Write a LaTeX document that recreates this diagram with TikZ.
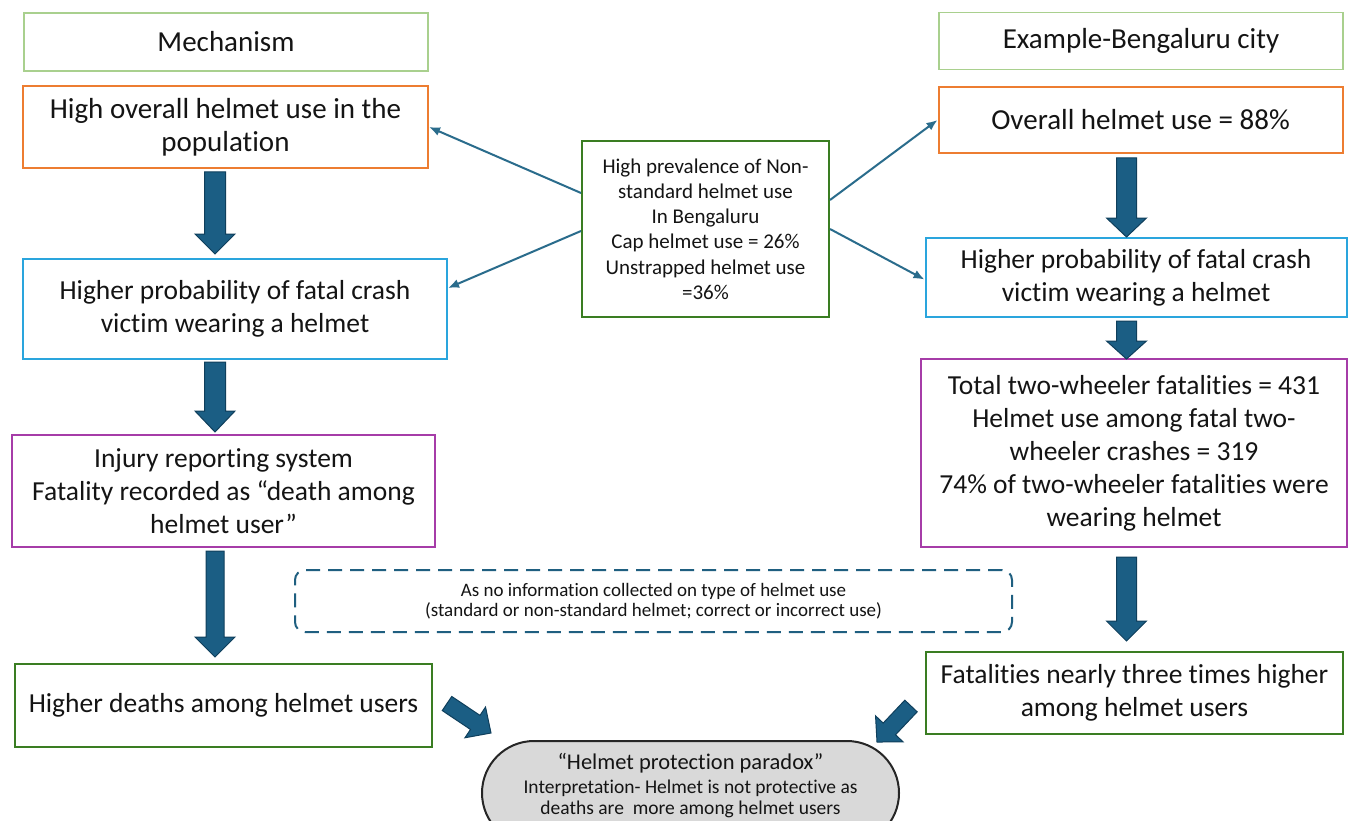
\documentclass[tikz,border=0pt]{standalone}
\usepackage{fontspec}
\setmainfont{Carlito}[Ligatures=NoCommon]
\usetikzlibrary{calc,arrows.meta,shapes.misc}
\definecolor{lgreen}{HTML}{A9D08E}
\definecolor{orng}{HTML}{ED7D31}
\definecolor{lblue}{HTML}{2AA5DD}
\definecolor{purp}{HTML}{A63CA8}
\definecolor{dgreen}{HTML}{3A7D22}
\definecolor{arrfill}{HTML}{1B5E84}
\definecolor{arrline}{HTML}{0F3F5C}
\definecolor{thinc}{HTML}{2A6C8C}
\definecolor{dashc}{HTML}{1F5F80}
\definecolor{pgray}{HTML}{D9D9D9}
\definecolor{txt}{HTML}{141414}
\tikzset{
  box/.style={draw, line width=2pt, align=center, inner sep=0pt, text=txt,
    font=\fontsize{27.5}{33}\selectfont},
  bigtext/.style={font=\fontsize{29}{33}\selectfont},
  barrow/.style={fill=arrfill, draw=arrline, line width=1pt, line join=miter},
  thinarrow/.style={draw=thinc, line width=2pt, -{Latex[length=11pt,width=9pt]}},
}
\newcommand\blockarrow[5]{%
  \coordinate (ba-n) at ($(#2)!#5!(#1)$);
  \filldraw[barrow] ($(#1)!#3!90:(#2)$) -- ($(ba-n)!#3!90:(#2)$) -- ($(ba-n)!#4!90:(#2)$)
    -- (#2) -- ($(ba-n)!#4!-90:(#2)$) -- ($(ba-n)!#3!-90:(#2)$) -- ($(#1)!#3!-90:(#2)$) -- cycle;
}
\begin{document}
\begin{tikzpicture}[x=1pt,y=-1pt]
\useasboundingbox (0,0) rectangle (1348,821);
\clip (0,0) rectangle (1348,821);
\fill[white] (0,0) rectangle (1348,821);

% left column
\node[box, bigtext, draw=lgreen, line width=1.6pt, minimum width=404pt, minimum height=58pt] (mech) at (226,42) {Mechanism};
\node[box, bigtext, draw=orng, minimum width=405pt, minimum height=82pt] (hi) at (225.5,127) {High overall helmet use in the\\population};
\node[box, draw=lblue, minimum width=424pt, minimum height=100pt] (lb) at (235,309) {Higher probability of fatal crash\\victim wearing a helmet};
\node[box, draw=purp, minimum width=423pt, minimum height=112pt] (inj) at (223.5,491) {Injury reporting system\\Fatality recorded as “death among\\helmet user”};
\node[box, draw=dgreen, minimum width=417pt, minimum height=83pt] (dth) at (223.5,705.5) {Higher deaths among helmet users};

% right column
\node[box, bigtext, draw=lgreen, line width=1.6pt, minimum width=404pt, minimum height=57pt] (ex) at (1141,41) {Example-Bengaluru city};
\node[box, bigtext, draw=orng, minimum width=404pt, minimum height=66pt] (ov) at (1140.5,120) {Overall helmet use = 88\%};
\node[box, draw=lblue, minimum width=421pt, minimum height=79pt] (rb) at (1136,277.5) {Higher probability of fatal crash\\victim wearing a helmet};
\node[box, draw=purp, minimum width=426pt, minimum height=188pt] (tot) at (1134,453) {Total two-wheeler fatalities = 431\\Helmet use among fatal two-\\wheeler crashes = 319\\74\% of two-wheeler fatalities were\\wearing helmet};
\node[box, draw=dgreen, minimum width=417pt, minimum height=82pt] (fat) at (1134.5,693) {Fatalities nearly three times higher\\among helmet users};

% centre box
\node[box, draw=dgreen, minimum width=247pt, minimum height=176pt, font=\fontsize{21}{25.2}\selectfont] (ctr) at (705.5,229) {High prevalence of Non-\\standard helmet use\\In Bengaluru\\Cap helmet use = 26\%\\Unstrapped helmet use\\=36\%};

% dashed note
\node[box, draw=dashc, dash pattern=on 14pt off 8pt, rounded corners=10pt, minimum width=717pt, minimum height=62pt, font=\fontsize{19}{20}\selectfont] (note) at (653.5,601) {As no information collected on type of helmet use\\(standard or non-standard helmet; correct or incorrect use)};

% paradox shape
\node[draw=black!85, fill=pgray, line width=2pt, rounded rectangle, minimum width=417pt, minimum height=104pt, inner sep=0pt] (par) at (690.5,793) {};
\node[align=center, inner sep=0pt, text=txt, font=\fontsize{19.5}{21}\selectfont] (partext) at (690.5,786) {{\fontsize{22.5}{21}\selectfont “Helmet protection paradox”}\\[3pt]Interpretation- Helmet is not protective as\\deaths are\ \ more among helmet users};

% thin arrows
\draw[thinarrow] ([yshift=36pt]ctr.west) -- (hi.east);
\draw[thinarrow] ([yshift=-2pt]ctr.west) -- ([yshift=21pt]lb.east);
\draw[thinarrow] ([yshift=29pt]ctr.east) -- (ov.west);
\draw[thinarrow] (ctr.east) -- ([yshift=-2pt]rb.west);

% block arrows
\coordinate (lx) at (215,0);
\coordinate (rx) at (1126.5,0);
\coordinate (a1s) at ($(lx|-hi.south)+(0,3)$);
\coordinate (a1e) at ($(lx|-lb.north)+(0,-4)$);
\coordinate (a2s) at ($(lx|-lb.south)+(0,2)$);
\coordinate (a2e) at ($(lx|-inj.north)+(0,-2)$);
\coordinate (a3s) at ($(lx|-inj.south)+(0,3)$);
\coordinate (a3e) at ($(lx|-dth.north)+(0,-6)$);
\coordinate (b1s) at ($(rx|-ov.south)+(0,4)$);
\coordinate (b1e) at (rx|-rb.north);
\coordinate (b2s) at ($(rx|-rb.south)+(0,3)$);
\coordinate (b2e) at ($(rx|-tot.north)+(0,1)$);
\coordinate (b3s) at ($(rx|-tot.south)+(0,9)$);
\coordinate (b3e) at ($(rx|-fat.north)+(0,-10)$);
\blockarrow{a1s}{a1e}{10.5pt}{20pt}{20pt}
\blockarrow{a2s}{a2e}{10.5pt}{20pt}{21pt}
\blockarrow{a3s}{a3e}{9pt}{20pt}{20pt}
\blockarrow{b1s}{b1e}{10pt}{20pt}{19pt}
\blockarrow{b2s}{b2e}{10pt}{20pt}{18pt}
\blockarrow{b3s}{b3e}{10pt}{20pt}{20pt}
\coordinate (dls) at (447,703.5);
\coordinate (dle) at (491,733);
\coordinate (drs) at (911,706);
\coordinate (dre) at (877,742);
\blockarrow{dls}{dle}{8.5pt}{18.5pt}{19pt}
\blockarrow{drs}{dre}{8.5pt}{19pt}{18pt}
\end{tikzpicture}
\end{document}
